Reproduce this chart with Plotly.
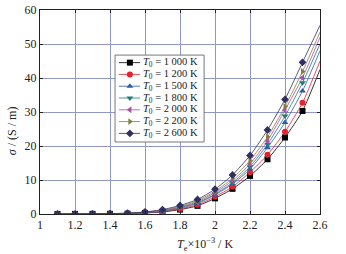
import plotly.graph_objects as go

x_pts = [1.1, 1.2, 1.3, 1.4, 1.5, 1.6, 1.7, 1.8, 1.9, 2.0, 2.1, 2.2, 2.3, 2.4, 2.5]
x_end = 2.6

names = ["1 000", "1 200", "1 500", "1 800", "2 000", "2 200", "2 600"]
sigma_1000 = [0.01, 0.02, 0.03, 0.05, 0.1, 0.3, 0.6, 1.3, 2.4, 4.6, 7.4, 11.2, 16.1, 22.5, 30.3]
sigma_1200 = [0.01, 0.02, 0.03, 0.06, 0.12, 0.35, 0.7, 1.5, 2.7, 5.1, 8.0, 12.3, 17.4, 24.2, 32.7]
sigma_1500 = [0.01, 0.02, 0.04, 0.07, 0.15, 0.4, 0.8, 1.7, 3.1, 5.6, 8.8, 13.2, 19.5, 26.9, 36.2]
sigma_1800 = [0.01, 0.02, 0.04, 0.08, 0.17, 0.45, 0.9, 1.9, 3.3, 5.9, 9.2, 13.9, 20.5, 28.8, 38.6]
sigma_2000 = [0.01, 0.02, 0.05, 0.09, 0.2, 0.5, 1.0, 2.0, 3.6, 6.3, 9.8, 14.7, 21.5, 30.6, 40.1]
sigma_2200 = [0.01, 0.03, 0.05, 0.1, 0.22, 0.55, 1.1, 2.2, 3.9, 6.7, 10.5, 15.7, 22.7, 31.6, 41.9]
sigma_2600 = [0.01, 0.03, 0.06, 0.12, 0.25, 0.6, 1.3, 2.5, 4.3, 7.3, 11.5, 17.2, 24.7, 33.7, 44.6]
sigma_end = [42.5, 45.0, 48.0, 50.0, 52.0, 53.5, 55.5]

series = [sigma_1000, sigma_1200, sigma_1500, sigma_1800, sigma_2000, sigma_2200, sigma_2600]
colors = ["#000000", "#e5222b", "#2d5ca8", "#1f7b7b", "#b14aa8", "#80803a", "#2f2f60"]
symbols = ["square", "circle", "triangle-up", "triangle-down", "triangle-left", "triangle-right", "diamond"]

x_ticks = [1, 1.2, 1.4, 1.6, 1.8, 2, 2.2, 2.4, 2.6]
y_ticks = [0, 10, 20, 30, 40, 50, 60]

# legend layout (paper fractions of the plot area)
LG_X0, LG_X1, LG_Y0, LG_Y1 = 0.268, 0.586, 0.353, 0.779
LG_LINE0, LG_LINE1, LG_MARK, LG_TEXT = 0.282, 0.357, 0.321, 0.362
LG_TOP, LG_STEP = 0.742, 0.0578

fig = go.Figure()
for i, ys in enumerate(series):
    fig.add_trace(go.Scatter(
        x=x_pts + [x_end], y=ys + [sigma_end[i]], mode="lines",
        line=dict(color=colors[i], width=0.8, shape="spline", smoothing=0.6),
        showlegend=False, hoverinfo="skip"))
for i, (nm, ys) in enumerate(zip(names, series)):
    fig.add_trace(go.Scatter(
        x=x_pts, y=ys, mode="markers",
        marker=dict(symbol=symbols[i], color=colors[i], size=6),
        name=f"T0 = {nm} K", showlegend=False))

# custom compact legend on an overlay axis
fig.add_trace(go.Scatter(
    x=[LG_X0, LG_X1, LG_X1, LG_X0, LG_X0], y=[LG_Y0, LG_Y0, LG_Y1, LG_Y1, LG_Y0],
    mode="lines", fill="toself", fillcolor="white",
    line=dict(color="#555", width=0.8), xaxis="x2", yaxis="y2",
    showlegend=False, hoverinfo="skip"))
annotations = []
for i, nm in enumerate(names):
    yy = LG_TOP - LG_STEP * i
    fig.add_trace(go.Scatter(
        x=[LG_LINE0, LG_MARK, LG_LINE1], y=[yy, yy, yy], mode="lines",
        line=dict(color=colors[i], width=0.8), xaxis="x2", yaxis="y2",
        showlegend=False, hoverinfo="skip"))
    fig.add_trace(go.Scatter(
        x=[LG_MARK], y=[yy], mode="markers",
        marker=dict(symbol=symbols[i], color=colors[i], size=6),
        xaxis="x2", yaxis="y2", showlegend=False, hoverinfo="skip"))
    annotations.append(dict(
        text=f"<i>T</i><sub>0</sub> = {nm} K", xref="paper", yref="paper",
        x=LG_TEXT, y=yy, xanchor="left", yanchor="middle", showarrow=False,
        font=dict(size=10.5, color="#222")))

annotations += [
    dict(text="<i>T</i><sub>e</sub>×10<sup>−3</sup> / K", xref="paper", yref="paper",
         x=0.59, y=-0.1, xanchor="center", yanchor="top", showarrow=False,
         font=dict(size=12)),
    dict(text="<i>σ</i> / (S / m)", xref="paper", yref="paper",
         x=-0.097, y=0.41, xanchor="center", yanchor="middle", showarrow=False,
         textangle=-90, font=dict(size=12)),
]

fig.update_layout(
    width=346, height=254,
    margin=dict(l=40, r=26, t=10, b=40, autoexpand=False),
    paper_bgcolor="white", plot_bgcolor="white",
    font=dict(family="Liberation Serif", size=12, color="#222"),
    showlegend=False,
    xaxis=dict(range=[1, 2.6], tickvals=x_ticks, ticktext=[str(v) for v in x_ticks],
               automargin=False, ticklabeloverflow="allow",
               showgrid=True, gridcolor="#8f98c8", gridwidth=0.8,
               showline=True, linecolor="#222", linewidth=1, mirror="ticks",
               ticks="inside", ticklen=3, tickcolor="#222", zeroline=False),
    yaxis=dict(range=[0, 60], tickvals=y_ticks, automargin=False,
               ticklabeloverflow="allow",
               showgrid=True, gridcolor="#8f98c8", gridwidth=0.8,
               showline=True, linecolor="#222", linewidth=1, mirror="ticks",
               ticks="inside", ticklen=3, tickcolor="#222", zeroline=False),
    xaxis2=dict(range=[0, 1], overlaying="x", visible=False, fixedrange=True),
    yaxis2=dict(range=[0, 1], overlaying="y", visible=False, fixedrange=True),
    annotations=annotations,
)

fig.write_html("out.html", config={"displayModeBar": False},
               post_script="document.body.style.margin='0';")
